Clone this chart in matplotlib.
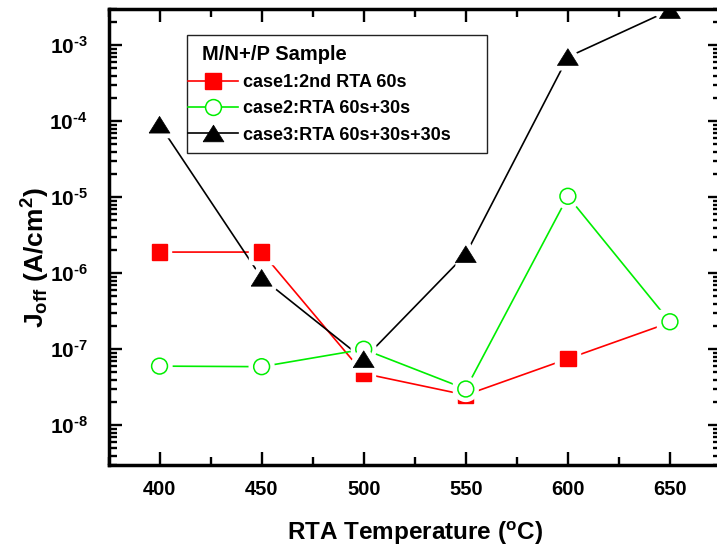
import math
import matplotlib
matplotlib.use("Agg")
import matplotlib.pyplot as plt
from matplotlib.lines import Line2D
from matplotlib.patches import Rectangle
from matplotlib.ticker import LogLocator, FuncFormatter, MultipleLocator, NullFormatter
import matplotlib.patheffects as pe

FONT = 'Liberation Sans'
plt.rcParams['font.family'] = [FONT, 'DejaVu Sans']
plt.rcParams['font.weight'] = 'bold'
plt.rcParams['mathtext.fontset'] = 'custom'
plt.rcParams['mathtext.rm'] = FONT + ':bold'
plt.rcParams['mathtext.bf'] = FONT + ':bold'
plt.rcParams['mathtext.it'] = FONT + ':bold'

# ---- data ----
temps = [400, 450, 500, 550, 600, 650]
case1 = [1.9e-6, 1.9e-6, 4.8e-8, 2.5e-8, 7.5e-8, 2.25e-7]
case2 = [6.0e-8, 5.9e-8, 1.0e-7, 3.0e-8, 1.03e-5, 2.3e-7]
case3 = [9.0e-5, 8.7e-7, 7.4e-8, 1.78e-6, 7.0e-4, 2.9e-3]
labels = ["case1:2nd RTA 60s", "case2:RTA 60s+30s", "case3:RTA 60s+30s+30s"]
legend_title = "M/N+/P Sample"
xticks = [400, 450, 500, 550, 600, 650]

W, H = 717, 556
fig = plt.figure(figsize=(W / 100, H / 100), dpi=100)
L, R, T, B = 108.5, 721, 9, 465
ax = fig.add_axes([L / W, 1 - B / H, (R - L) / W, (B - T) / H])

tri = [(-1, -0.8), (1, -0.8), (0, 0.8), (-1, -0.8)]
styles = [
    dict(color='#ff0000', marker='s', ms=11, mfc='#ff0000', mec='#ff0000', mew=1.0),
    dict(color='#00ee00', marker='o', ms=11.4, mfc='white', mec='#00ee00', mew=1.1),
    dict(color='black', marker=tri, ms=15, mfc='black', mec='black', mew=0.5),
]
series = [case1, case2, case3]

for s, st in zip(series, styles):
    ax.plot(temps, s, color=st['color'], lw=1.2, zorder=2)
for s, st in zip(series, styles):
    ax.plot(temps, s, ls='none', marker=st['marker'], ms=st['ms'], mfc=st['mfc'],
            mec=st['mec'], mew=st['mew'], zorder=2.2,
            path_effects=[pe.Stroke(linewidth=7.5, foreground='white'), pe.Normal()])

ax.set_yscale('log')
ax.set_ylim(3e-9, 3e-3)
ax.set_xlim(375, 675)
ax.xaxis.set_major_locator(MultipleLocator(50))
ax.xaxis.set_minor_locator(MultipleLocator(25))
ax.set_xticks(xticks)
ax.yaxis.set_major_locator(LogLocator(base=10, numticks=20))
ax.yaxis.set_minor_locator(LogLocator(base=10, subs=range(2, 10), numticks=20))
ax.yaxis.set_minor_formatter(NullFormatter())
ax.yaxis.set_major_formatter(FuncFormatter(
    lambda v, p: r'$\mathbf{10^{\text{-}%d}}$' % abs(round(math.log10(v)))))

for sp in ax.spines.values():
    sp.set_linewidth(2.5)
ax.tick_params(which='both', direction='in', top=True, right=True)
ax.tick_params(which='major', length=9.5, width=1.7, pad=11)
ax.tick_params(which='minor', length=5.8, width=1.7)
ax.tick_params(axis='y', labelsize=15, pad=15)
ax.tick_params(axis='x', labelsize=14.5)
for lab in ax.get_xticklabels():
    lab.set_fontweight('bold')

ax.set_xlabel(r'RTA Temperature ($\mathbf{^o}$C)', fontsize=17.5, fontweight='bold')
ax.set_ylabel(r'J$_{\mathbf{off}}$ (A/cm$^{\mathbf{2}}$)', fontsize=19, fontweight='bold')
ax.xaxis.set_label_coords(0.5, (B - 520) / (B - T))
ax.yaxis.set_label_coords((52 - L) / (R - L), (B - 258) / (B - T))

# legend
handles = [Line2D([], [], color=st['color'], lw=1.2, marker=st['marker'], ms=st['ms'],
                  mfc=st['mfc'], mec=st['mec'], mew=st['mew']) for st in styles]
leg = ax.legend(handles, labels, loc='center left', bbox_to_anchor=(188 / W, 1 - 109 / H),
                bbox_transform=fig.transFigure, frameon=False, borderpad=0, borderaxespad=0,
                handlelength=2.77, handletextpad=0.28, labelspacing=0.5,
                prop=dict(size=13, weight='bold'))
leg.set_zorder(6)
rect = Rectangle((187 / W, 1 - 153 / H), 300 / W, 118 / H, transform=fig.transFigure,
                 facecolor='white', edgecolor='#222222', lw=1.0, clip_on=False, zorder=4)
ax.add_patch(rect)
ax.text(201.7 / W, 1 - 55 / H, legend_title, transform=fig.transFigure, ha='left', va='center',
        fontsize=14.5, fontweight='bold', zorder=7)

fig.savefig('out.png', dpi=100)
